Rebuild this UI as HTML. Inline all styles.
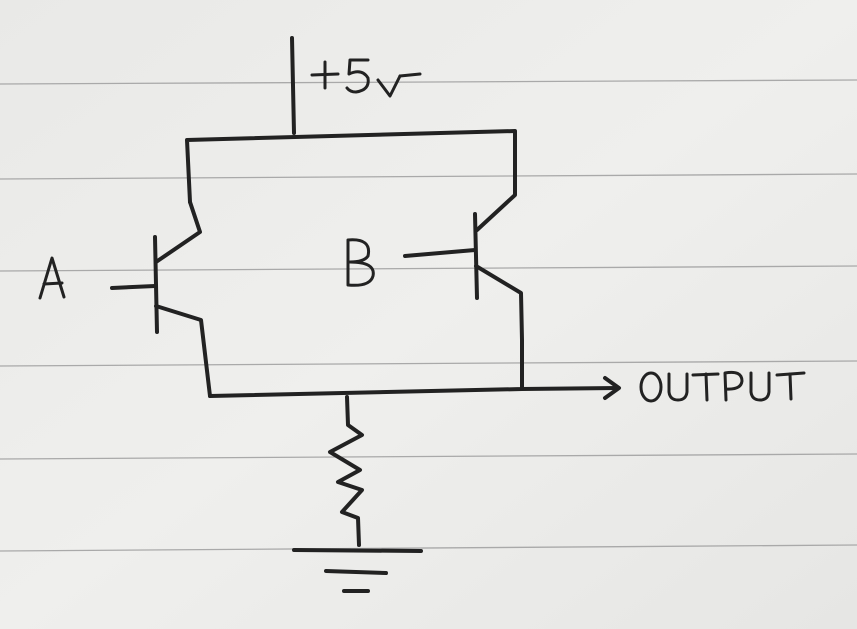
<!DOCTYPE html>
<html><head><meta charset="utf-8"><style>
html,body{margin:0;padding:0;background:#ececea;}
svg{display:block}
</style></head><body>
<svg width="857" height="629" viewBox="0 0 857 629" xmlns="http://www.w3.org/2000/svg">
<defs>
<linearGradient id="bg" x1="0" y1="0" x2="1" y2="1">
<stop offset="0" stop-color="#e9e9e7"/><stop offset="0.5" stop-color="#efefed"/><stop offset="1" stop-color="#e6e6e4"/>
</linearGradient>
</defs>
<rect width="857" height="629" fill="url(#bg)"/>
<g stroke="#a9a9a9" stroke-width="1.3" fill="none">
<line x1="0" y1="84" x2="857" y2="80"/>
<line x1="0" y1="179" x2="857" y2="174"/>
<line x1="0" y1="271" x2="857" y2="266"/>
<line x1="0" y1="366" x2="857" y2="361"/>
<line x1="0" y1="459" x2="857" y2="454"/>
<line x1="0" y1="551" x2="857" y2="545"/>
</g>
<g stroke="#222" stroke-width="4" fill="none" stroke-linecap="round" stroke-linejoin="round">
<!-- +5V -->
<line x1="292" y1="38" x2="294" y2="133"/>
<!-- top rail -->
<polyline points="190,202 187,140 515,131 515,195 477,230"/>
<!-- A transistor -->
<line x1="155" y1="237" x2="157" y2="332"/>
<line x1="112" y1="288" x2="155" y2="286"/>
<polyline points="156,262 200,232 190,202"/>
<polyline points="156,306 201,320 210,396"/>
<!-- bottom rail -->
<polyline points="210,396 522,389 522,340 521,293 476,266"/>
<line x1="522" y1="389" x2="618" y2="388"/>
<polyline points="605,378 619,388 605,398"/>
<!-- B transistor -->
<line x1="475" y1="214" x2="477" y2="298"/>
<line x1="405" y1="256" x2="475" y2="250"/>
<!-- resistor -->
<polyline points="347,397 348,425 362,435 330,452 360,470 338,482 362,490 342,512 358,518 359,545"/>
<!-- ground -->
<line x1="294" y1="550" x2="421" y2="551"/>
<line x1="326" y1="571" x2="386" y2="573"/>
<line x1="344" y1="591" x2="368" y2="591"/>
</g>
<g stroke="#222" stroke-width="3" fill="none" stroke-linecap="round" stroke-linejoin="round">
<!-- +5V text -->
<line x1="312" y1="75" x2="338" y2="74"/><line x1="325" y1="62" x2="325" y2="88"/>
<path d="M368,60 L350,60 L349,74 Q362,68 368,78 Q370,90 356,92 Q350,92 347,88"/>
<polyline points="378,80 390,96 400,76"/>
<line x1="400" y1="76" x2="420" y2="74"/>
<!-- A -->
<polyline points="40,298 52,258 64,297"/><line x1="44" y1="284" x2="62" y2="283"/>
<!-- B -->
<path d="M348,240 L348,285 M348,240 Q372,238 368,256 Q364,262 350,262 Q376,262 373,276 Q370,287 348,285"/>
<!-- OUTPUT -->
<ellipse cx="651" cy="387" rx="10" ry="14"/>
<path d="M669,374 L669,392 Q670,400 678,400 Q686,400 687,392 L687,374"/>
<line x1="693" y1="375" x2="718" y2="374"/><line x1="706" y1="374" x2="707" y2="400"/>
<path d="M726,400 L725,373 Q742,370 742,381 Q741,390 726,389"/>
<path d="M751,373 L751,392 Q752,400 760,400 Q768,400 769,392 L769,373"/>
<line x1="777" y1="375" x2="804" y2="373"/><line x1="790" y1="374" x2="791" y2="399"/>
</g>
</svg>
</body></html>
